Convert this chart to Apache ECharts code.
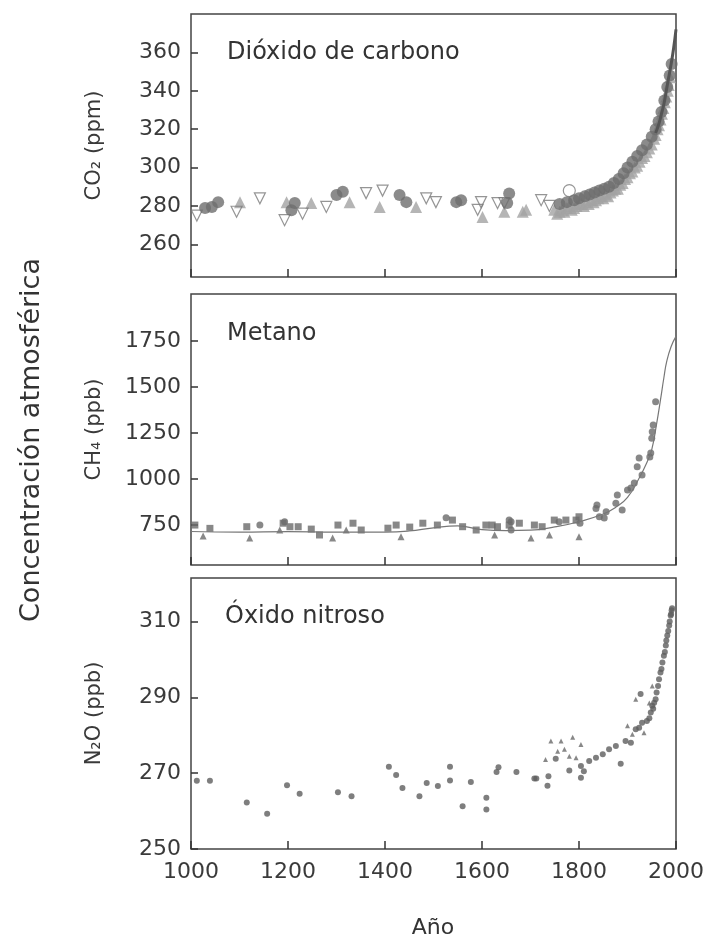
<!DOCTYPE html>
<html>
<head>
<meta charset="utf-8">
<script src="https://cdn.jsdelivr.net/npm/echarts@6/dist/echarts.min.js"></script>
<style>
  html, body { margin: 0; padding: 0; background: #fff; }
  #main { width: 707px; height: 949px; }
</style>
</head>
<body>
<div id="main"></div>
<script>
var yearTicks = [1000, 1200, 1400, 1600, 1800, 2000];
var co2Ticks = [260, 280, 300, 320, 340, 360];
var ch4Ticks = [750, 1000, 1250, 1500, 1750];
var n2oTicks = [250, 270, 290, 310];

// CO2 (ppm)
var co2Open = [[1012,275],[1094,277],[1142,284],[1193,272.6],[1230,276],[1279,279.5],[1361,286.7],[1395,288],
  [1485,284],[1505,282],[1591,278],[1598,282],[1632,281.5],[1646,281.5],[1722,283],[1739,280]];
var co2OpenCircle = [[1780,288]];
var co2Light = [[1101,282],[1197,282],[1248,281.5],[1327,282],[1389,279.5],[1464,279.5],[1601,274.3],[1646,277],
  [1684,277],[1691,278],[1749,278],
  [1755,276],[1760,277],[1765,278],[1770,277],[1775,279],[1780,280],[1785,278],[1790,279],[1795,280],[1800,281],
  [1805,281],[1810,280],[1815,282],[1820,281],[1825,283],[1830,282],[1835,283],[1840,284],[1845,285],[1850,284],
  [1855,286],[1860,285],[1865,287],[1870,288],[1875,289],[1880,289],[1885,291],[1890,292],[1895,294],[1900,295],
  [1905,297],[1910,298],[1915,300],[1920,301],[1925,303],[1930,305],[1935,306],[1940,308],[1945,310],[1950,312],
  [1955,315],[1958,317],[1962,320],[1965,322],[1968,325],[1971,328],[1974,331],[1977,334],[1980,337],[1983,340],
  [1985,343],[1988,347]];
var co2Dark = [[1029,279],[1043,279.5],[1056,282],[1207,277.8],[1214,281.5],[1300,285.7],[1313,287.4],[1430,285.7],
  [1444,282],[1547,282],[1557,283],[1652,281.5],[1656,286.5],
  [1760,281],[1775,282],[1790,283],[1800,284],[1812,285],[1822,286],[1832,287],[1842,288],[1852,289],[1862,290],
  [1872,292],[1882,294],[1892,297],[1900,300],[1910,303],[1920,306],[1930,309],[1940,312],[1950,316],[1958,320],
  [1964,324],[1970,329],[1976,335],[1982,342],[1987,348],[1991,354]];
var co2Line = [[1958,318],[1965,323],[1970,328],[1975,333],[1980,340],[1985,347],[1990,354],[1995,362],[2000,372]];

// CH4 (ppb)
var ch4Squares = [[1008,750],[1039,732],[1115,741],[1190,760],[1204,741],[1221,741],[1248,728],[1265,696],[1303,750],
  [1334,760],[1351,723],[1406,733],[1423,750],[1451,739],[1478,760],[1508,750],[1539,777],[1560,741],[1588,723],
  [1608,750],[1621,750],[1632,741],[1656,750],[1677,760],[1708,750],[1724,741],[1749,777],[1773,777],[1794,777],[1800,795]];
var ch4Triangles = [[1025,690],[1121,679],[1183,723],[1292,679],[1320,723],[1433,687],[1626,696],[1701,679],[1739,696],[1800,686]];
var ch4Circles = [[1142,750],[1193,768],[1526,790],[1656,777],[1660,768],[1660,723],[1759,768],[1802,760],[1842,795],
  [1852,788],[1837,859],[1835,840],[1856,822],[1889,832],[1876,869],[1879,913],[1900,940],[1907,951],[1914,978],
  [1930,1022],[1920,1067],[1924,1114],[1946,1120],[1948,1141],[1950,1222],[1951,1257],[1953,1293],[1958,1420]];
var ch4Line = [[1000,715],[1100,712],[1200,714],[1300,712],[1400,712],[1450,718],[1500,735],[1550,745],[1600,725],
  [1650,720],[1700,722],[1750,740],[1800,768],[1850,810],[1875,845],[1900,900],[1925,1010],[1940,1090],[1950,1160],
  [1960,1300],[1968,1430],[1975,1550],[1981,1640],[1990,1720],[2000,1775]];

// N2O (ppb)
var n2oCircles = [[1012,268],[1039,268],[1115,262.3],[1157,259.3],[1198,266.8],[1224,264.6],[1303,265],[1331,263.9],
  [1408,271.7],[1423,269.5],[1436,266.1],[1471,263.9],[1486,267.4],[1509,266.6],[1534,271.7],[1534,268.1],[1560,261.3],
  [1577,267.7],[1609,263.5],[1609,260.4],[1630,270.3],[1634,271.6],[1671,270.3],[1708,268.6],[1712,268.6],[1737,269.2],
  [1735,266.7],[1752,273.8],[1780,270.7],[1804,271.9],[1804,268.8],[1810,270.5],[1821,273.2],[1835,274.1],[1849,275],
  [1862,276.3],[1876,277.2],[1886,272.5],[1896,278.5],[1907,278],[1917,281.6],[1924,282],[1927,290.9],[1930,283.3],
  [1940,283.8],[1945,284.5],[1948,286],[1951,287.8],[1953,287],[1955,288.6],[1958,289.5],[1960,291.3],[1963,293],
  [1965,294.8],[1968,296.6],[1970,297.5],[1972,299.2],[1975,301],[1977,302],[1979,303.7],[1980,305],[1982,306.3],
  [1984,307.5],[1986,309],[1987,310],[1989,311.6],[1990,312],[1991,313],[1992,313.5]];
var n2oTriangles = [[1731,273.6],[1742,278.5],[1756,275.8],[1763,278.5],[1770,276.3],[1780,274.5],[1787,279.5],
  [1794,274.1],[1804,277.6],[1900,282.5],[1910,280.3],[1917,289.5],[1934,280.7],[1945,288.5],[1951,293]];

var font = 'DejaVu Sans';
var txt = '#3a3a3a';

var grids = [
  {left: 191, top: 14, width: 485, height: 263},
  {left: 191, top: 294, width: 485, height: 271},
  {left: 191, top: 578, width: 485, height: 271}
];
grids.forEach(function (g) {
  g.show = true;
  g.borderColor = '#444';
  g.borderWidth = 1.5;
  g.backgroundColor = '#fff';
  g.containLabel = false;
  g.outerBoundsMode = 'none';
});

function plain(v) { return String(v); }

function xAx(i, showLabel) {
  return {
    type: 'value', gridIndex: i, min: 1000, max: 2000, interval: 200,
    axisLine: {show: false},
    splitLine: {show: false},
    axisTick: {inside: true, length: 8, lineStyle: {color: '#333', width: 1.5}},
    axisLabel: {show: showLabel, margin: 12, fontFamily: font, fontSize: 22, color: txt, formatter: plain}
  };
}

function yAx(i, min, max, ticks, name) {
  return {
    type: 'value', gridIndex: i, min: min, max: max,
    name: name, nameLocation: 'middle', nameRotate: 90, nameGap: 86,
    nameTextStyle: {fontFamily: font, fontSize: 21, color: txt},
    axisLine: {show: false},
    splitLine: {show: false},
    axisTick: {inside: true, length: 7, lineStyle: {color: '#333', width: 1.5}, customValues: ticks},
    axisLabel: {margin: 10, fontFamily: font, fontSize: 22, color: txt, customValues: ticks, formatter: plain}
  };
}

function pts(i, data, symbol, size, style, rotate) {
  return {
    type: 'scatter', xAxisIndex: i, yAxisIndex: i, data: data,
    symbol: symbol, symbolSize: size, symbolRotate: rotate || 0,
    itemStyle: style, silent: true
  };
}

var chart = echarts.init(document.getElementById('main'));
chart.setOption({
  animation: false,
  grid: grids,
  xAxis: [xAx(0, false), xAx(1, false), xAx(2, true)],
  yAxis: [
    yAx(0, 243, 380, co2Ticks, 'CO₂ (ppm)'),
    yAx(1, 533, 2005, ch4Ticks, 'CH₄ (ppb)'),
    yAx(2, 250, 321.5, n2oTicks, 'N₂O (ppb)')
  ],
  series: [
    pts(0, co2Light, 'triangle', 12, {color: '#a3a3a3'}),
    pts(0, co2Open, 'triangle', 11, {color: 'rgba(255,255,255,0)', borderColor: '#7a7a7a', borderWidth: 1.2}, 180),
    pts(0, co2OpenCircle, 'circle', 12, {color: 'rgba(255,255,255,0)', borderColor: '#7a7a7a', borderWidth: 1.2}),
    pts(0, co2Dark, 'circle', 12, {color: '#6e6e6e'}),
    {type: 'line', xAxisIndex: 0, yAxisIndex: 0, data: co2Line, showSymbol: false, smooth: true,
      lineStyle: {color: '#555', width: 3}, silent: true},
    {type: 'line', xAxisIndex: 1, yAxisIndex: 1, data: ch4Line, showSymbol: false, smooth: true,
      lineStyle: {color: '#777', width: 1.2}, silent: true},
    pts(1, ch4Squares, 'rect', 7, {color: '#6a6a6a'}),
    pts(1, ch4Triangles, 'triangle', 7, {color: '#6a6a6a'}),
    pts(1, ch4Circles, 'circle', 7, {color: '#6a6a6a'}),
    pts(2, n2oCircles, 'circle', 6, {color: '#5e5e5e'}),
    pts(2, n2oTriangles, 'triangle', 5, {color: '#6a6a6a'})
  ],
  graphic: [
    {type: 'text', left: 227, top: 41, style: {text: 'Dióxido de carbono', font: '24px "DejaVu Sans"', fill: '#333'}},
    {type: 'text', left: 227, top: 322, style: {text: 'Metano', font: '24px "DejaVu Sans"', fill: '#333'}},
    {type: 'text', left: 225, top: 605, style: {text: 'Óxido nitroso', font: '24px "DejaVu Sans"', fill: '#333'}},
    {type: 'text', x: 32, y: 440, rotation: Math.PI / 2,
      style: {text: 'Concentración atmosférica', font: '27px "DejaVu Sans"', fill: '#333',
        textAlign: 'center', textVerticalAlign: 'middle'}},
    {type: 'text', x: 433, y: 928,
      style: {text: 'Año', font: '22px "DejaVu Sans"', fill: '#333', textAlign: 'center', textVerticalAlign: 'middle'}}
  ]
});
</script>
</body>
</html>
